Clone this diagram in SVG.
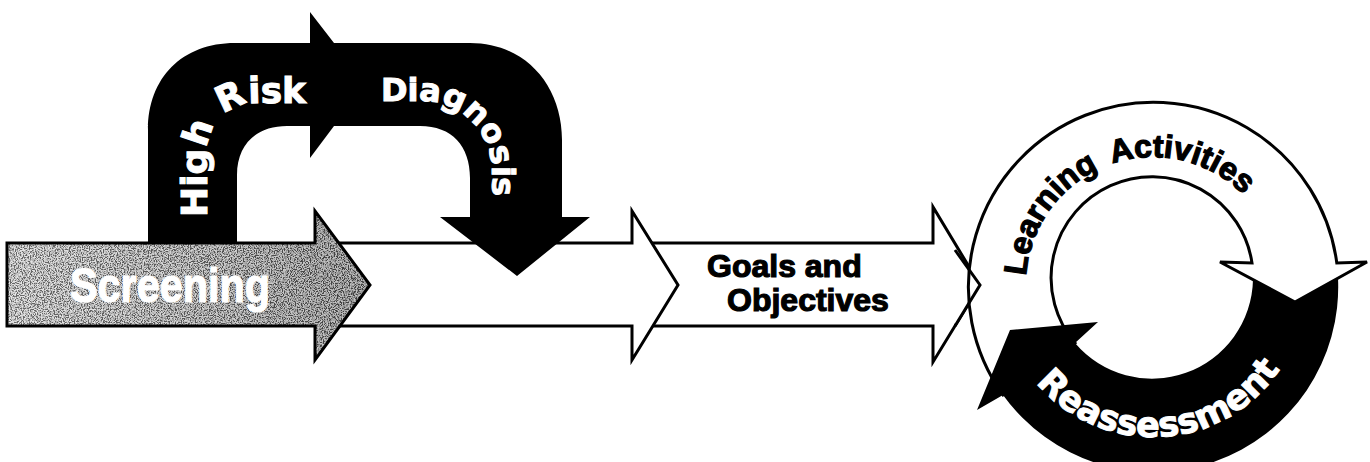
<svg xmlns="http://www.w3.org/2000/svg" width="1370" height="462" viewBox="0 0 1370 462">
  <style>
    .edge { stroke: #000; stroke-width: 3; stroke-linejoin: miter; }
    .paper { fill: #fff; }
    .ink { fill: #000; }
    .wlabel { font-family: "DejaVu Sans", "Liberation Sans", sans-serif; font-weight: bold; fill: #fff; stroke: #fff; stroke-width: 1; }
    .blabel { font-family: "Liberation Sans", Arial, sans-serif; font-weight: bold; fill: #000; stroke: #000; stroke-width: 1.2; }
    .slabel { font-family: "Liberation Sans", Arial, sans-serif; font-weight: bold; fill: #fff; stroke: #fff; stroke-width: 1.2; }
  </style>
  <defs>
    <linearGradient id="shade" x1="0" y1="0" x2="1" y2="0">
      <stop offset="0" stop-color="#d4d4d4"/>
      <stop offset="0.55" stop-color="#a8a8a8"/>
      <stop offset="1" stop-color="#808080"/>
    </linearGradient>
    <filter id="grain" x="0" y="0" width="1" height="1">
      <feTurbulence type="fractalNoise" baseFrequency="0.85" numOctaves="2" seed="4" result="noise"/>
      <feColorMatrix in="noise" type="matrix" values="4 0 0 0 -1.6  4 0 0 0 -1.6  4 0 0 0 -1.6  0 0 0 0 1" result="speck"/>
      <feComposite in="speck" in2="SourceAlpha" operator="in"/>
    </filter>
    <path id="screenShape" d="M 7,243 L 315,243 L 315,211 L 370,285 L 315,360 L 315,326 L 7,326 Z"/>
    <!-- white ring segment with its arrowhead on the right -->
    <path id="ringWhite" d="M 1003,395 A 185 185 0 1 1 1336.8,263 L 1367,262 L 1295,302 L 1220,262 L 1252,263 A 101 101 0 1 0 1075,343 Z"/>
    <!-- baselines for curved lettering -->
    <path id="hrPath" d="M 207,217 L 207,152 A 49 49 0 0 1 256,103 L 340,103"/>
    <path id="dgPath" d="M 381,101 L 422,101 A 70 70 0 0 1 492,171 L 492,240"/>
    <path id="laPath" d="M 1026,284 A 127 127 0 0 1 1280,284 A 127 127 0 0 1 1026,284"/>
    <path id="raPath" d="M 1000,284 A 153 153 0 0 0 1306,284"/>
  </defs>

  <g id="connectors">
    <!-- Goals and Objectives arrow -->
    <g id="goals">
      <path class="paper edge" d="M 640,243 L 933,243 L 933,207 L 980,285 L 933,362 L 933,326 L 640,326 Z"/>
      <text class="blabel" font-size="32" x="707" y="277">Goals and</text>
      <text class="blabel" font-size="32" x="727" y="311">Objectives</text>
    </g>

    <!-- plain arrow between screening and goals -->
    <g id="pathway">
      <path class="paper edge" d="M 322,243 L 632,243 L 632,211 L 678,285 L 632,360 L 632,326 L 322,326 Z"/>
    </g>

    <!-- bent black arrow: High Risk then Diagnosis -->
    <g id="highrisk-diagnosis">
      <path class="ink" d="M 148,244 L 148,130 C 148,78 182,43 235,43 L 310,43 L 310,12 L 334,43 L 470,43 C 525,43 562,85 562,140 L 562,217 L 590,217 L 517,276 L 440,217 L 470,217 L 470,178 C 470,146 452,126 420,126 L 334,126 L 310,158 L 310,126 L 287,126 C 256,126 237,145 237,175 L 237,244 Z"/>
      <text class="wlabel" font-size="36"><textPath href="#hrPath">High Risk</textPath></text>
      <text class="wlabel" font-size="32"><textPath href="#dgPath">Diagnosis</textPath></text>
    </g>
  </g>

  <!-- Screening arrow, shaded with a grainy tone -->
  <g id="screening">
    <use href="#screenShape" fill="url(#shade)"/>
    <use href="#screenShape" fill="#000" filter="url(#grain)" opacity="0.5"/>
    <use href="#screenShape" fill="none" class="edge"/>
    <text class="slabel" font-size="48" x="70" y="302" textLength="200" lengthAdjust="spacingAndGlyphs">Screening</text>
  </g>

  <!-- learning / reassessment cycle -->
  <g id="cycle">
    <use href="#ringWhite" class="paper"/>
    <path class="ink" d="M 1253,279.6 L 1295,302 L 1338,278 A 185 185 0 0 1 1003,395 L 977,410 L 1010,330 L 1098,322 L 1075,343 A 101 101 0 0 0 1253,279.6 Z"/>
    <text class="blabel" font-size="32"><textPath href="#laPath" startOffset="8">Learning</textPath></text>
    <text class="blabel" font-size="32"><textPath href="#laPath" startOffset="158">Activities</textPath></text>
    <text class="wlabel" font-size="35"><textPath href="#raPath" startOffset="107">Reassessment</textPath></text>
  </g>

  <!-- goals arrowhead tip sits over the ring; redraw the ring outline above it -->
  <g id="goals-tip">
    <path class="paper edge" d="M 955,250 L 980,285 L 955,326"/>
    <use href="#ringWhite" fill="none" class="edge"/>
  </g>
</svg>
